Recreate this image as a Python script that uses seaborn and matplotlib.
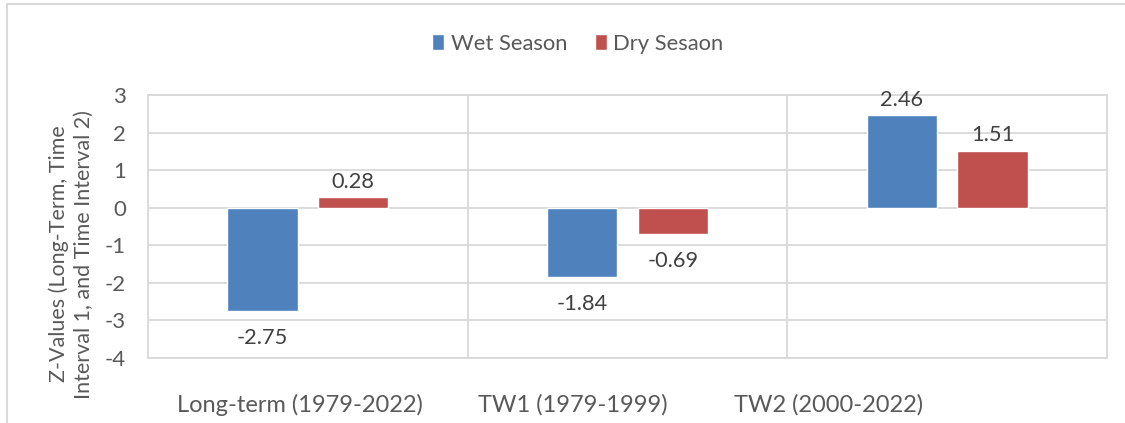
import pandas as pd
import matplotlib.pyplot as plt
import matplotlib.transforms as mtransforms
import seaborn as sns
from matplotlib.lines import Line2D

# data
periods = ['Long-term (1979-2022)', 'TW1 (1979-1999)', 'TW2 (2000-2022)']
wet = [-2.75, -1.84, 2.46]
dry = [0.28, -0.69, 1.51]
seasons = ['Wet Season', 'Dry Sesaon']

df = pd.DataFrame({
    'period': periods * 2,
    'season': [seasons[0]] * 3 + [seasons[1]] * 3,
    'z': wet + dry,
})

sns.set_style('white')
plt.rcParams['font.family'] = ['Lato', 'DejaVu Sans']
plt.rcParams['axes.unicode_minus'] = False
txt = '#595959'
grid = '#D9D9D9'

fig = plt.figure(figsize=(11.25, 4.23), dpi=100)
ax = fig.add_axes([0.1316, 0.1537, 0.8524, 0.6217])

sns.barplot(data=df, x='period', y='z', hue='season', order=periods,
            hue_order=seasons, palette=['#4F81BD', '#C0504D'], saturation=1,
            width=0.568, gap=0.225, ax=ax, legend=True)

# data labels (outside end)
for cont in ax.containers:
    for bar in cont:
        h = bar.get_height()
        x = bar.get_x() + bar.get_width() / 2
        if h >= 0:
            ax.text(x, h + 0.15, f'{h:.2f}', ha='center', va='bottom',
                    fontsize=15.7, color='#404040')
        else:
            ax.text(x, h - 0.45, f'{h:.2f}', ha='center', va='top',
                    fontsize=15.7, color='#404040')

ax.set_ylim(-4, 3)
ax.set_xlim(-0.5, 2.5)
ax.set_yticks(range(-4, 4))
ax.yaxis.grid(True, color=grid, lw=1.3)
for xv in [0.5, 1.5]:
    ax.axvline(xv, color=grid, lw=1.3)
for s in ax.spines.values():
    s.set_color(grid)
    s.set_linewidth(1.3)
ax.set_axisbelow(True)

ax.tick_params(axis='x', length=0, pad=26, labelsize=17, labelcolor=txt)
ax.tick_params(axis='y', length=0, pad=16, labelsize=16, labelcolor=txt)
# the category labels sit left of the bar groups, as in the original
for lab, dx in zip(ax.get_xticklabels(), [-8, -55, -119]):
    lab.set_transform(lab.get_transform() +
                      mtransforms.ScaledTranslation(dx / 100, 0, fig.dpi_scale_trans))
ax.set_xlabel('')
ax.set_ylabel('Z-Values (Long-Term, Time\nInterval 1, and Time Interval 2)',
              fontsize=15.5, color=txt, linespacing=1.3)
ax.yaxis.set_label_coords(-0.057, 0.395)

leg = ax.legend(loc='center', ncol=2, frameon=False, fontsize=15.8,
                handlelength=0.55, handleheight=0.75, columnspacing=1.25,
                handletextpad=0.3)
leg.set_bbox_to_anchor((0.5135, 0.897), transform=fig.transFigure)
for t in leg.get_texts():
    t.set_color(txt)

# outer chart border
fig.add_artist(Line2D([7 / 1125, 7 / 1125], [0, 1 - 4 / 423], color=grid, lw=1.5))
fig.add_artist(Line2D([7 / 1125, 1], [1 - 4 / 423, 1 - 4 / 423], color=grid, lw=1.5))

fig.savefig('out.png', dpi=100)
